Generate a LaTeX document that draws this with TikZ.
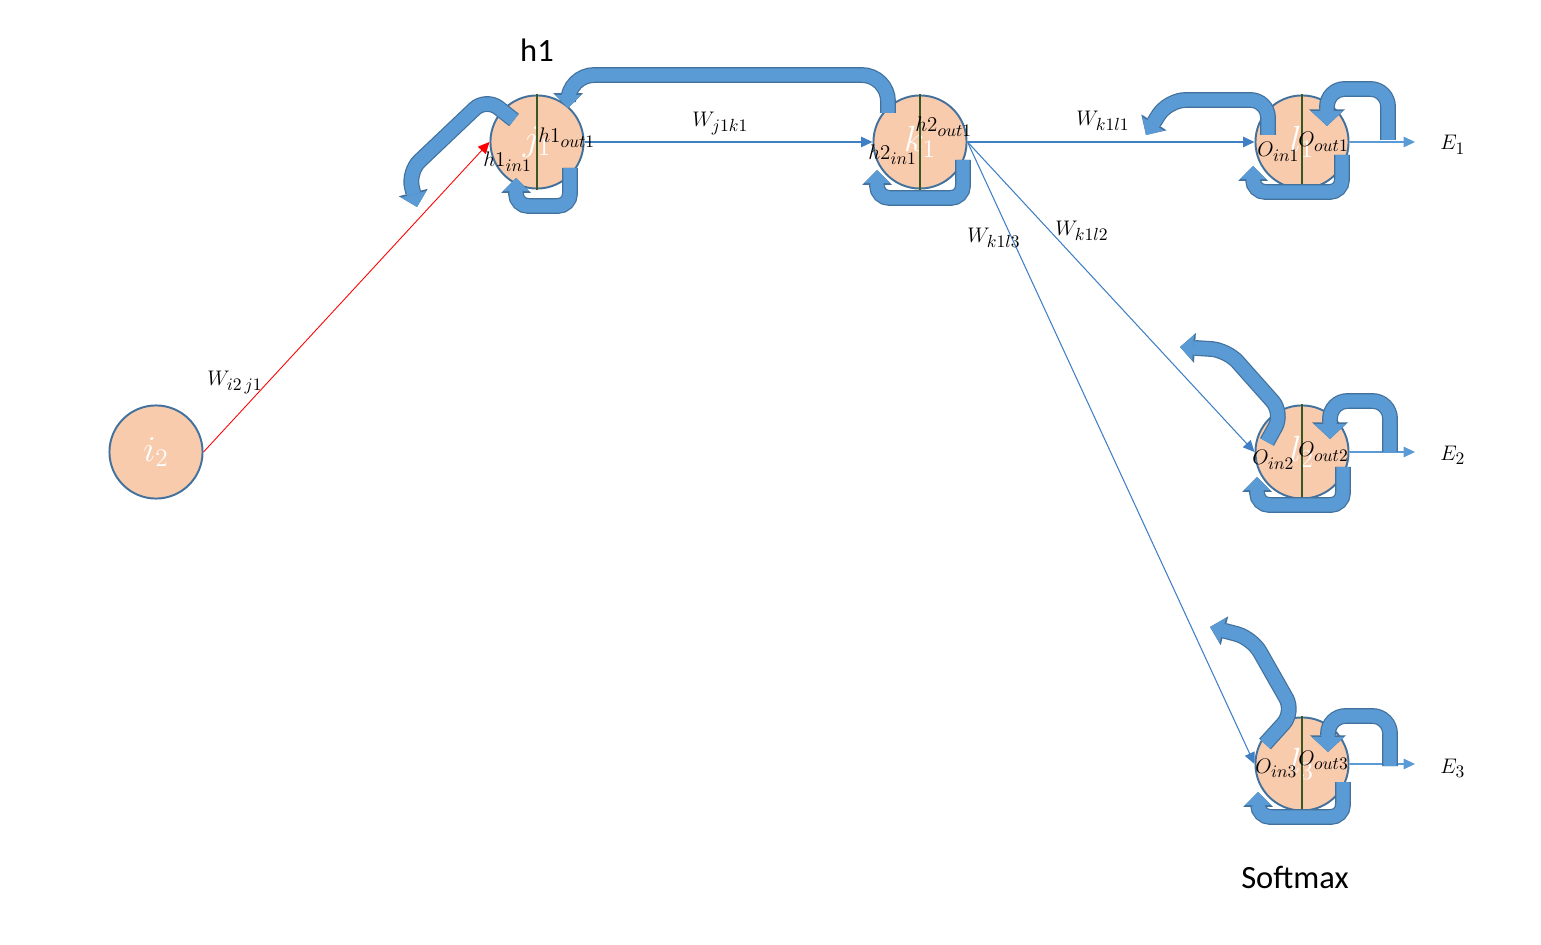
\documentclass[tikz,border=0pt]{standalone}
\usepackage{fontspec}
\setsansfont{Carlito}
\usepackage{tikz}
\usetikzlibrary{arrows.meta}
\DeclareMathSizes{13}{13}{10}{8}
\definecolor{nodefill}{HTML}{F8CBAD}
\definecolor{nodeline}{HTML}{41719C}
\definecolor{bandfill}{HTML}{5B9BD5}
\definecolor{bandline}{HTML}{41719C}
\definecolor{wline}{HTML}{3F7FC4}
\definecolor{midgreen}{HTML}{385723}

\begin{document}
\begin{tikzpicture}[x=0.02cm,y=-0.02cm,
    neuron/.style={circle, draw=nodeline, line width=1.1pt, fill=nodefill,
      minimum size=53pt, inner sep=0pt, text=white, font=\fontsize{20}{24}\selectfont},
    wlab/.style={font=\fontsize{13}{15}\selectfont, inner sep=0pt},
    conn/.style={draw=wline, line width=0.6pt, -{Triangle[length=6.5pt,width=6pt]}},
    midline/.style={draw=midgreen, line width=0.6pt},
    band/.style={draw=bandfill, line width=7.6pt, rounded corners=7pt,
      -{Triangle[length=7.5pt,width=14.5pt,line width=0pt]},
      preaction={draw=bandline, line width=9pt,
        -{Triangle[length=8.5pt,width=17pt,line width=0pt]}}},
    bandbig/.style={draw=bandfill, line width=7.6pt, rounded corners=10pt,
      -{Triangle[length=8.5pt,width=18pt,line width=0pt]},
      preaction={draw=bandline, line width=9pt,
        -{Triangle[length=9.5pt,width=20.5pt,line width=0pt]}}}]
        \useasboundingbox (0,0) rectangle (1541,945);
        % Neurons
        \node[neuron] (i2) at (156,452) {$i_2$};
        \node[neuron] (j1) at (537,142) {$j_1$};
        \node[neuron] (k1) at (920,142) {$k_1$};
        \node[neuron] (l1) at (1302,142) {$l_1$};
        \node[neuron] (l2) at (1302,452) {$l_2$};
        \node[neuron] (l3) at (1302,764) {$l_3$};
        \foreach \n in {j1,k1,l1,l2,l3}
          \draw[midline] (\n.north) -- (\n.south);
        % Output ends
        \coordinate (o1) at (1415,142);
        \coordinate (o2) at (1415,452);
        \coordinate (o3) at (1415,764);
        % Weights
        \draw[conn, draw=red, line width=0.5pt] (i2.east) -- (j1.west);
        \draw[conn] (j1) -- (k1);
        \draw[conn] (k1) -- (l1);
        \draw[conn] (k1.east) -- (l2.west);
        \draw[conn] (k1.east) -- (l3.west);
        \draw[conn, draw=bandfill] (l1.east) -- (o1);
        \draw[conn, draw=bandfill] (l2.east) -- (o2);
        \draw[conn, draw=bandfill] (l3.east) -- (o3);
        % Loops
        \draw[band, rounded corners=9pt] (514,120) -- (486,98) -- (408,172) -- (417,207);
        \draw[band, rounded corners=15pt] (888,113) -- (888,75) -- (568,75) -- (568,108);
        \draw[band] (570,168) -- (570,206) -- (516,206) -- (516,178);
        \draw[band] (963,160) -- (963,198) -- (877,198) -- (877,170);
        \draw[band, rounded corners=10pt] (1268,135) -- (1268,100) -- (1168,100) -- (1146,135);
        \draw[bandbig] (1388,140) -- (1388,89) -- (1327,89) -- (1327,126);
        \draw[band] (1342,155) -- (1342,192) -- (1253,192) -- (1253,166);
        \draw[band, rounded corners=9pt] (1267,442) -- (1283,413) -- (1227,350) -- (1180,347);
        \draw[bandbig] (1390,452) -- (1390,401) -- (1330,401) -- (1330,439);
        \draw[band] (1343,467) -- (1343,505) -- (1257,505) -- (1257,477);
        \draw[band, rounded corners=9pt] (1265,744) -- (1294,712) -- (1252,638) -- (1210,627);
        \draw[bandbig] (1390,766) -- (1390,716) -- (1328,716) -- (1328,752);
        \draw[band] (1343,782) -- (1343,817) -- (1258,817) -- (1258,792);
        % Labels
        \node[wlab, anchor=base west] (wij) at (207,386) {$W_{i2\,j1}$};
        \node[wlab, anchor=base west] (wjk) at (692,127) {$W_{j1k1}$};
        \node[wlab, anchor=base west] (wkl1) at (1076,126) {$W_{k1l1}$};
        \node[wlab, anchor=base west] (wkl2) at (1055,236) {$W_{k1l2}$};
        \node[wlab, anchor=base west] (wkl3) at (967,243) {$W_{k1l3}$};
        \node[wlab, anchor=base west] (hout1) at (538,143) {$h1_{out1}$};
        \node[wlab, anchor=base west] (hin1) at (483,167) {$h1_{in1}$};
        \node[wlab, anchor=base west] (hout2) at (915,132) {$h2_{out1}$};
        \node[wlab, anchor=base west] (hin2) at (868,160) {$h2_{in1}$};
        \node[wlab, anchor=base west] (oin1) at (1257,157) {$O_{in1}$};
        \node[wlab, anchor=base west] (oout1) at (1298,147) {$O_{out1}$};
        \node[wlab, anchor=base west] (oin2) at (1252,465) {$O_{in2}$};
        \node[wlab, anchor=base west] (oout2) at (1298,457) {$O_{out2}$};
        \node[wlab, anchor=base west] (oin3) at (1255,773) {$O_{in3}$};
        \node[wlab, anchor=base west] (oout3) at (1298,765) {$O_{out3}$};
        \node[wlab, anchor=base west] (E1) at (1440,150) {$E_1$};
        \node[wlab, anchor=base west] (E2) at (1440,460) {$E_2$};
        \node[wlab, anchor=base west] (E3) at (1440,773) {$E_3$};
        \node[font=\sffamily\fontsize{18.5}{22}\selectfont, anchor=base] (h1) at (537,62) {h1};
        \node[font=\sffamily\fontsize{18.5}{22}\selectfont, anchor=base] (soft) at (1295,888) {Softmax};
      \end{tikzpicture}
\end{document}
